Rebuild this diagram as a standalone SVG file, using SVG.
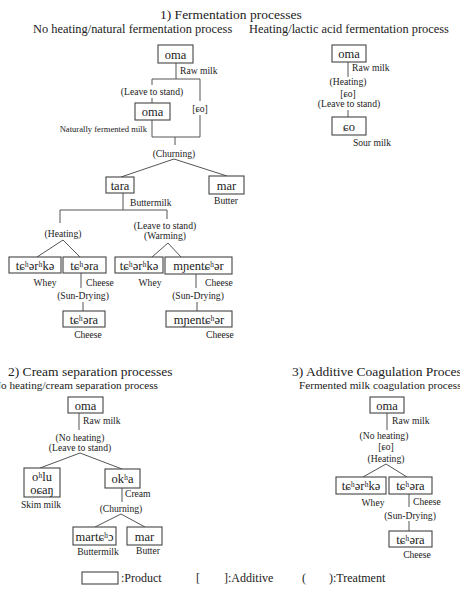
<svg xmlns="http://www.w3.org/2000/svg" width="460" height="591" viewBox="0 0 460 591">
<style>
text{font-family:"Liberation Serif","DejaVu Serif",serif;fill:#222}
.t{font-size:13.5px}
.s{font-size:12.4px}
.s2{font-size:11.2px}
.n{font-size:12.5px;text-anchor:middle}
.l{font-size:9.6px}
.c{text-anchor:middle}
.sm{font-size:8.6px}
.g{font-size:12px}
rect{fill:#fff;stroke:#444;stroke-width:1.1}
#connectors line,#connectors polyline{stroke:#555;stroke-width:1;fill:none}
</style>
<rect width="460" height="591" style="stroke:none;fill:#fff"/>
<g id="titles">
<text class="t" x="160" y="19">1) Fermentation processes</text>
<text class="s" x="33" y="33">No heating/natural fermentation process</text>
<text class="s" x="249" y="33">Heating/lactic acid fermentation process</text>
<text class="t" x="8" y="376">2) Cream separation processes</text>
<text class="s2" x="-7" y="389">No heating/cream separation process</text>
<text class="t" x="292" y="375.5">3) Additive Coagulation Process</text>
<text class="s2" x="299" y="389">Fermented milk coagulation process</text>
</g>
<g id="connectors">
<line x1="176" y1="63" x2="176" y2="79"/>
<line x1="152" y1="79" x2="200" y2="79"/>
<line x1="152" y1="79" x2="152" y2="85"/>
<line x1="152" y1="98" x2="152" y2="103"/>
<line x1="200" y1="79" x2="200" y2="101"/>
<line x1="200" y1="115" x2="200" y2="137"/>
<line x1="152" y1="120" x2="152" y2="137"/>
<line x1="152" y1="137" x2="200" y2="137"/>
<line x1="175" y1="137" x2="175" y2="145"/>
<polyline points="121,177 174,159 227,176"/>
<line x1="123" y1="193" x2="123" y2="210"/>
<line x1="60" y1="210" x2="167" y2="210"/>
<line x1="60" y1="210" x2="60" y2="223"/>
<line x1="167" y1="210" x2="167" y2="219"/>
<polyline points="37,257 63,240 80,257"/>
<polyline points="152,257 168,243 181,257"/>
<line x1="81" y1="273" x2="81" y2="288"/>
<line x1="83" y1="302" x2="83" y2="311"/>
<line x1="196" y1="274" x2="196" y2="288"/>
<line x1="197" y1="302" x2="197" y2="311"/>
<line x1="348" y1="62" x2="348" y2="77"/>
<line x1="348" y1="110" x2="348" y2="117"/>
<line x1="79" y1="413" x2="79" y2="430"/>
<polyline points="40,468 80,453 122,469"/>
<line x1="122" y1="488" x2="122" y2="502"/>
<polyline points="95,527 121,514 145,527"/>
<line x1="387" y1="413" x2="387" y2="430"/>
<polyline points="363,477 386,464 407,477"/>
<line x1="409" y1="494" x2="409" y2="507"/>
<line x1="409" y1="521" x2="409" y2="531"/>
</g>
<g id="treatments">
<text class="l c" x="152" y="95">(Leave to stand)</text>
<text class="l c" x="200" y="111.5">[ɕo]</text>
<text class="l c" x="174" y="156.5">(Churning)</text>
<text class="l c" x="63" y="236.5">(Heating)</text>
<text class="l c" x="165" y="228.5">(Leave to stand)</text>
<text class="l c" x="165" y="238.5">(Warming)</text>
<text class="l c" x="83" y="298.5">(Sun-Drying)</text>
<text class="l c" x="198" y="298.5">(Sun-Drying)</text>
<text class="l c" x="348" y="84.5">(Heating)</text>
<text class="l c" x="348" y="96.5">[ɕo]</text>
<text class="l c" x="349" y="106.5">(Leave to stand)</text>
<text class="l c" x="80" y="440.5">(No heating)</text>
<text class="l c" x="80" y="450.5">(Leave to stand)</text>
<text class="l c" x="121" y="511.5">(Churning)</text>
<text class="l c" x="384" y="438.5">(No heating)</text>
<text class="l c" x="386" y="450">[ɕo]</text>
<text class="l c" x="386" y="461.5">(Heating)</text>
<text class="l c" x="410" y="518.5">(Sun-Drying)</text>
</g>
<g id="n1"><rect x="158" y="45" width="35" height="18"/><text class="n" x="175.5" y="58.5">oma</text><text class="l" x="180" y="73.5">Raw milk</text></g>
<g id="n2"><rect x="135" y="103" width="35" height="17"/><text class="n" x="152.5" y="116">oma</text><text class="sm" x="147" y="132" text-anchor="end">Naturally fermented milk</text></g>
<g id="n3"><rect x="106" y="177" width="28" height="16"/><text class="n" x="120" y="189.5">tara</text><text class="l" x="130" y="205.5">Buttermilk</text></g>
<g id="n4"><rect x="209" y="176" width="35" height="18"/><text class="n" x="226.5" y="189.5">mar</text><text class="l c" x="226" y="203.5">Butter</text></g>
<g id="n5"><rect x="9" y="257" width="52" height="16"/><text class="n" x="35" y="269.5">tɕʰərʰkə</text><text class="l c" x="45" y="285.5">Whey</text></g>
<g id="n6"><rect x="63" y="257" width="43" height="16"/><text class="n" x="84.5" y="269.5">tɕʰəra</text><text class="l" x="86" y="285.5">Cheese</text></g>
<g id="n7"><rect x="63" y="311" width="42" height="16"/><text class="n" x="84" y="323.5">tɕʰəra</text><text class="l c" x="88" y="338">Cheese</text></g>
<g id="n8"><rect x="115" y="257" width="48" height="16"/><text class="n" x="139" y="269.5">tɕʰərʰkə</text><text class="l c" x="150" y="285.5">Whey</text></g>
<g id="n9"><rect x="165" y="257" width="67" height="17"/><text class="n" x="198.5" y="270">mɲentɕʰər</text><text class="l" x="205" y="285.5">Cheese</text></g>
<g id="n10"><rect x="166" y="311" width="66" height="16"/><text class="n" x="199" y="323.5">mɲentɕʰər</text><text class="l" x="206" y="338">Cheese</text></g>
<g id="n11"><rect x="332" y="45" width="34" height="17"/><text class="n" x="349" y="58">oma</text><text class="l" x="352" y="70.5">Raw milk</text></g>
<g id="n12"><rect x="332" y="117" width="34" height="18"/><text class="n" x="349" y="130.5">ɕo</text><text class="l c" x="372" y="145.5">Sour milk</text></g>
<g id="n13"><rect x="68" y="397" width="35" height="16"/><text class="n" x="85.5" y="409.5">oma</text><text class="l" x="83" y="424">Raw milk</text></g>
<g id="n14"><rect x="24" y="468" width="36" height="29"/><text class="n" x="42" y="481">oʰlu</text><text class="n" x="42" y="494">oɕaŋ</text><text class="l c" x="41" y="507.5">Skim milk</text></g>
<g id="n15"><rect x="105" y="469" width="35" height="19"/><text class="n" x="122.5" y="482.5">okʰa</text><text class="l" x="125" y="496.5">Cream</text></g>
<g id="n16"><rect x="73" y="527" width="43" height="18"/><text class="n" x="94.5" y="540.5">martɕʰɔ</text><text class="l c" x="98" y="554.5">Buttermilk</text></g>
<g id="n17"><rect x="127" y="527" width="35" height="18"/><text class="n" x="144.5" y="540.5">mar</text><text class="l c" x="148" y="553.5">Butter</text></g>
<g id="n18"><rect x="370" y="397" width="34" height="16"/><text class="n" x="387" y="409.5">oma</text><text class="l" x="392" y="424">Raw milk</text></g>
<g id="n19"><rect x="336" y="477" width="50" height="17"/><text class="n" x="361" y="490">tɕʰərʰkə</text><text class="l c" x="373" y="505.5">Whey</text></g>
<g id="n20"><rect x="389" y="477" width="43" height="17"/><text class="n" x="410.5" y="490">tɕʰəra</text><text class="l" x="413" y="504.5">Cheese</text></g>
<g id="n21"><rect x="389" y="531" width="43" height="16"/><text class="n" x="410.5" y="543.5">tɕʰəra</text><text class="l c" x="417" y="557.5">Cheese</text></g>
<g id="legend">
<rect x="82" y="572" width="36" height="12"/>
<text class="g" x="121" y="582">:Product</text>
<text class="g" x="196" y="582">[</text>
<text class="g" x="224" y="582">]</text>
<text class="g" x="228" y="582">:Additive</text>
<text class="g" x="302" y="582">(</text>
<text class="g" x="329" y="582">)</text>
<text class="g" x="333" y="582">:Treatment</text>
</g>
</svg>
